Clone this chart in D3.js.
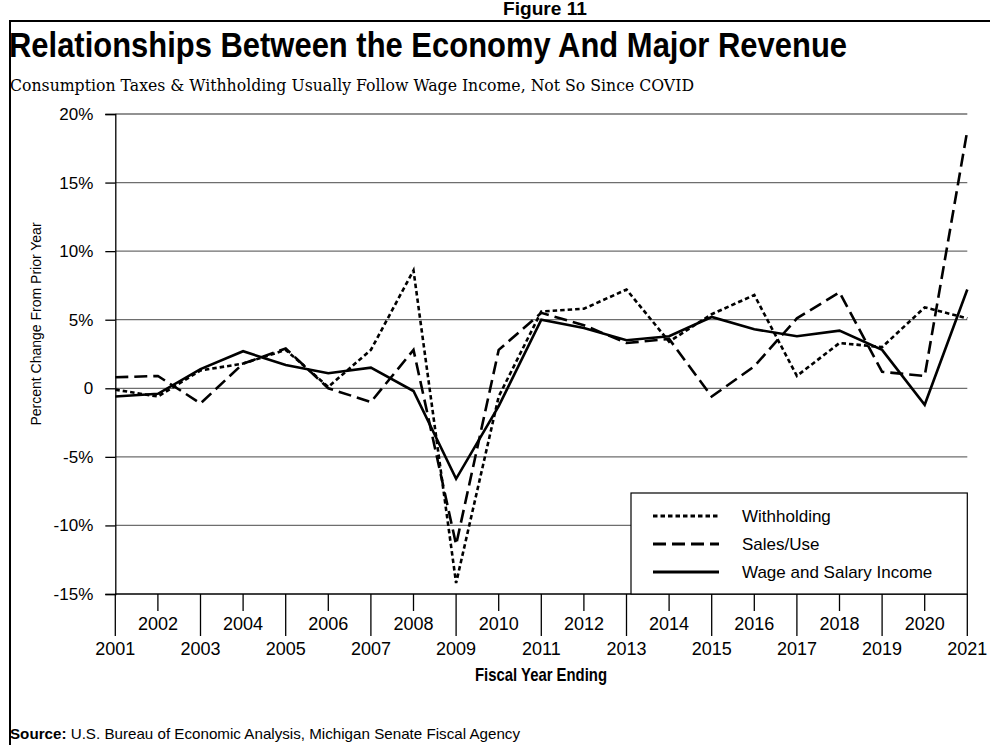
<!DOCTYPE html>
<html>
<head>
<meta charset="utf-8">
<script src="https://cdn.jsdelivr.net/npm/d3@7"></script>
<style>
  html, body { margin: 0; padding: 0; background: #fff; }
  svg { display: block; }
</style>
</head>
<body>
<svg id="chart" width="990" height="745"></svg>
<script>
// ---- Data ----
const years = [2001,2002,2003,2004,2005,2006,2007,2008,2009,2010,2011,2012,2013,2014,2015,2016,2017,2018,2019,2020,2021];
const withholding = [-0.1,-0.6,1.3,1.8,2.8,0.1,2.8,8.6,-14.2,-0.6,5.6,5.8,7.2,3.4,5.4,6.8,0.9,3.3,3.0,5.9,5.1];
const salesUse    = [0.8,0.9,-1.1,1.8,2.9,0.0,-1.0,2.8,-11.4,2.8,5.5,4.6,3.3,3.6,-0.6,1.6,5.1,7.0,1.2,0.9,18.8];
const wageSalary  = [-0.6,-0.4,1.4,2.7,1.7,1.1,1.5,-0.2,-6.6,-1.3,5.0,4.4,3.5,3.8,5.2,4.3,3.8,4.2,2.8,-1.2,7.2];
const yTicks = [-15,-10,-5,0,5,10,15,20];
const yTickLabels = ["-15%","-10%","-5%","0","5%","10%","15%","20%"];
const seriesNames = ["Withholding","Sales/Use","Wage and Salary Income"];

const svg = d3.select("#chart");
const sans = "'Liberation Sans', Arial, sans-serif";
const serif = "'DejaVu Serif', 'Liberation Serif', serif";

const L = 115.3, R = 967.3, T = 114, B = 594;
const x = d3.scaleLinear().domain([2001, 2021]).range([L, R]);
const y = d3.scaleLinear().domain([-15, 20]).range([B, T]);

// Outer frame
svg.append("path").attr("d", "M10,745 L10,21 L990,21").attr("fill","none").attr("stroke","#000").attr("stroke-width",2);

// Figure label
svg.append("text").attr("x", 545).attr("y", 15).attr("text-anchor","middle")
  .attr("font-family", sans).attr("font-weight","bold").attr("font-size", 18)
  .attr("textLength", 84).attr("lengthAdjust","spacingAndGlyphs").text("Figure 11");

// Title
svg.append("text").attr("x", 9).attr("y", 57)
  .attr("font-family", sans).attr("font-weight","bold").attr("font-size", 35)
  .attr("textLength", 838).attr("lengthAdjust","spacingAndGlyphs")
  .text("Relationships Between the Economy And Major Revenue");

// Subtitle
svg.append("text").attr("x", 10).attr("y", 91)
  .attr("font-family", serif).attr("font-size", 16)
  .attr("textLength", 684).attr("lengthAdjust","spacingAndGlyphs")
  .text("Consumption Taxes & Withholding Usually Follow Wage Income, Not So Since COVID");

// Gridlines
svg.append("g").selectAll("line").data(yTicks.filter(v => v !== -15)).join("line")
  .attr("x1", L).attr("x2", R).attr("y1", d => y(d)).attr("y2", d => y(d))
  .attr("stroke", "#6e6e6e").attr("stroke-width", 1.3);

// Y axis
const yAxis = d3.axisLeft(y).tickValues(yTicks).tickSize(10).tickPadding(12)
  .tickFormat(d => yTickLabels[yTicks.indexOf(d)]);
const gy = svg.append("g").attr("transform", `translate(${L},0)`).call(yAxis);
gy.select(".domain").attr("stroke","#000").attr("stroke-width",1.3);
gy.selectAll(".tick line").attr("stroke","#000").attr("stroke-width",1.3);
gy.selectAll(".tick text").attr("font-family", sans).attr("font-size", 17).attr("fill","#000");

// X axis baseline
svg.append("line").attr("x1", L).attr("x2", R).attr("y1", B).attr("y2", B).attr("stroke","#000").attr("stroke-width",1.3);

// X ticks and staggered labels
const gx = svg.append("g");
gx.selectAll("line").data(years).join("line")
  .attr("x1", d => x(d)).attr("x2", d => x(d))
  .attr("y1", B).attr("y2", d => (d % 2 === 1) ? B + 42 : B + 17)
  .attr("stroke","#000").attr("stroke-width",1.3);
gx.selectAll("text").data(years).join("text")
  .attr("x", d => x(d)).attr("y", d => (d % 2 === 1) ? 655 : 630)
  .attr("text-anchor","middle").attr("font-family", sans).attr("font-size", 18)
  .text(d => d);

// Axis titles
svg.append("text").attr("transform", "translate(41,324) rotate(-90)").attr("text-anchor","middle")
  .attr("font-family", sans).attr("font-size", 14).text("Percent Change From Prior Year");
svg.append("text").attr("x", 541).attr("y", 681).attr("text-anchor","middle")
  .attr("font-family", sans).attr("font-weight","bold").attr("font-size", 19)
  .attr("textLength", 132).attr("lengthAdjust","spacingAndGlyphs").text("Fiscal Year Ending");

// Lines
const styles = [
  {data: withholding, dash: "4.5,3"},
  {data: salesUse, dash: "13,6"},
  {data: wageSalary, dash: null}
];
const lineGen = d3.line().x((d,i) => x(years[i])).y(d => y(d));
styles.forEach(s => {
  svg.append("path").datum(s.data).attr("d", lineGen)
    .attr("fill","none").attr("stroke","#000").attr("stroke-width", 2.6)
    .attr("stroke-linejoin","miter").attr("stroke-dasharray", s.dash);
});

// Legend
const lg = svg.append("g");
lg.append("rect").attr("x", 631).attr("y", 493).attr("width", R - 631).attr("height", B - 493)
  .attr("fill","#fff").attr("stroke","#000").attr("stroke-width",1.2);
seriesNames.forEach((name, i) => {
  const yy = 516 + i * 28;
  lg.append("line").attr("x1", 653).attr("x2", 719).attr("y1", yy).attr("y2", yy)
    .attr("stroke","#000").attr("stroke-width", 3).attr("stroke-dasharray", styles[i].dash);
  lg.append("text").attr("x", 742).attr("y", yy + 6).attr("font-family", sans).attr("font-size", 17).text(name);
});

// Source
const src = svg.append("text").attr("x", 10).attr("y", 739).attr("font-family", sans).attr("font-size", 15)
  .attr("textLength", 510).attr("lengthAdjust","spacingAndGlyphs");
src.append("tspan").attr("font-weight","bold").text("Source:");
src.append("tspan").text(" U.S. Bureau of Economic Analysis, Michigan Senate Fiscal Agency");
</script>
</body>
</html>
